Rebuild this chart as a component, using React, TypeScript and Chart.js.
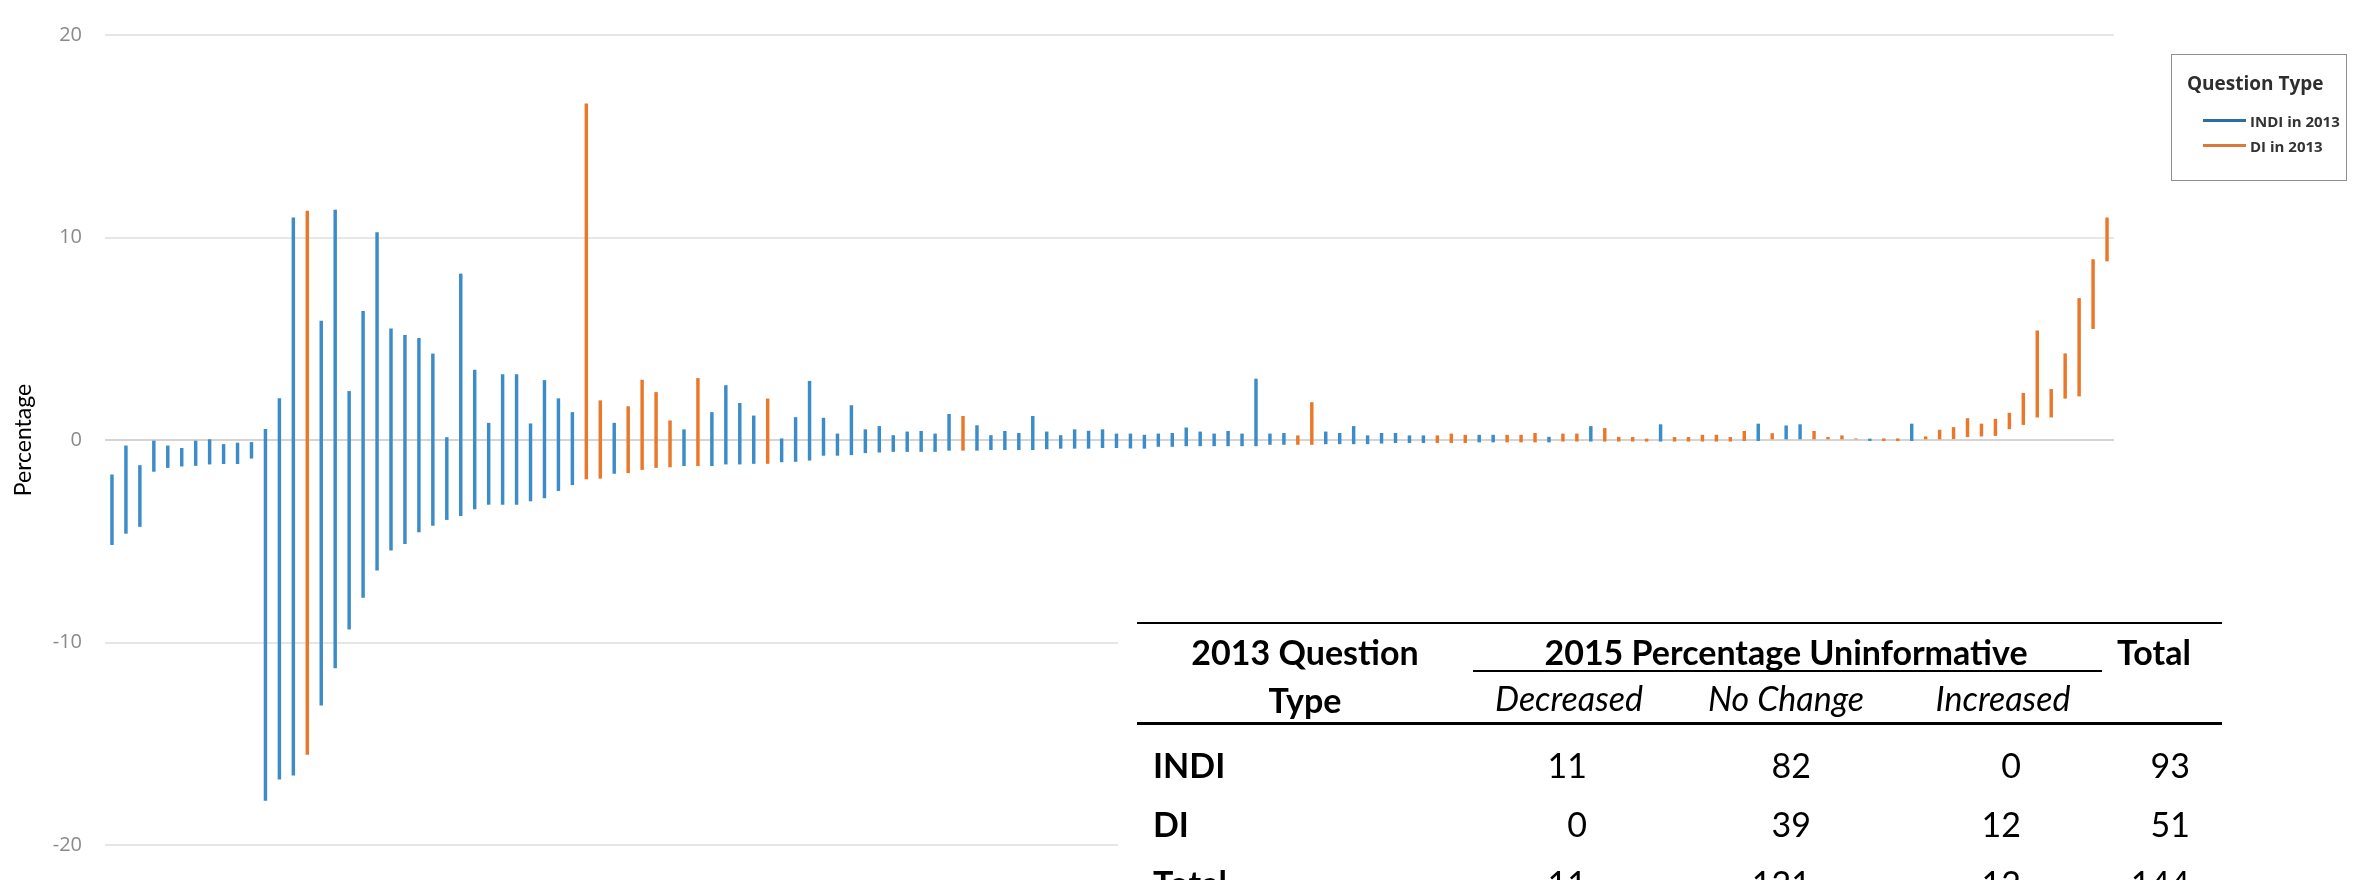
import React, { useEffect, useRef } from "react";
import { Chart, registerables } from "chart.js";

Chart.register(...registerables);

// ---- Data ----
// Question type in 2013 for each of the 144 questions, in plotted order (I = INDI, D = DI)
const questionTypes =
  "IIIIIIIIIIIIIIDIIIIIIIIIIIIIIIIIIIDDIDDDDIDIIIIDIIIIIIIIIIIIIDIIIIIIIIIIIIIIIIIIIIIIIDDIIIIIIIIDDDIIDDDIDDIDDDDIDDDDDDIDIIDDDDIDDIDDDDDDDDDDDDDD".split("");

// Lower end of each bar (percentage)
const lows = [
  -5.17, -4.61, -4.27, -1.55, -1.36, -1.29, -1.26, -1.19, -1.17, -1.17, -0.9, -17.8,
  -16.75, -16.55, -15.53, -13.1, -11.26, -9.34, -7.77, -6.43, -5.44, -5.12, -4.54, -4.22,
  -3.93, -3.74, -3.4, -3.18, -3.18, -3.18, -3.01, -2.86, -2.5, -2.21, -1.92, -1.89,
  -1.65, -1.62, -1.46, -1.36, -1.33, -1.27, -1.27, -1.27, -1.19, -1.19, -1.16, -1.16,
  -1.08, -1.06, -1.0, -0.76, -0.76, -0.73, -0.63, -0.6, -0.57, -0.57, -0.57, -0.57,
  -0.51, -0.51, -0.51, -0.48, -0.48, -0.48, -0.48, -0.44, -0.41, -0.41, -0.41, -0.38,
  -0.38, -0.4, -0.41, -0.32, -0.32, -0.29, -0.29, -0.29, -0.29, -0.29, -0.29, -0.22,
  -0.22, -0.22, -0.22, -0.19, -0.19, -0.19, -0.19, -0.16, -0.13, -0.13, -0.13, -0.13,
  -0.13, -0.13, -0.1, -0.1, -0.1, -0.1, -0.1, -0.1, -0.06, -0.06, -0.06, -0.06,
  -0.06, -0.06, -0.06, -0.06, -0.06, -0.06, -0.06, -0.06, -0.06, -0.03, -0.03, 0,
  0, 0, 0, 0, 0, 0, -0.03, -0.03, -0.03, -0.03, 0, 0,
  0.06, 0.16, 0.19, 0.22, 0.55, 0.76, 1.13, 1.13, 2.06, 2.17, 5.5, 8.84,
];

// Upper end of each bar (percentage)
const highs = [
  -1.72, -0.29, -1.26, 0.0, -0.29, -0.41, -0.05, 0.02, -0.22, -0.15, -0.12, 0.53,
  2.04, 10.97, 11.31, 5.87, 11.36, 2.4, 6.36, 10.24, 5.49, 5.17, 5.02, 4.25,
  0.12, 8.2, 3.45, 0.83, 3.23, 3.23, 0.8, 2.94, 2.04, 1.36, 16.6, 1.94,
  0.83, 1.65, 2.96, 2.35, 0.95, 0.51, 3.04, 1.36, 2.69, 1.81, 1.19, 2.03,
  0.06, 1.11, 2.9, 1.08, 0.3, 1.7, 0.51, 0.67, 0.22, 0.4, 0.43, 0.3,
  1.27, 1.17, 0.71, 0.22, 0.43, 0.33, 1.17, 0.4, 0.22, 0.51, 0.44, 0.51,
  0.3, 0.3, 0.24, 0.3, 0.33, 0.6, 0.4, 0.3, 0.43, 0.3, 3.01, 0.3,
  0.33, 0.21, 1.85, 0.4, 0.33, 0.67, 0.21, 0.33, 0.33, 0.21, 0.21, 0.21,
  0.3, 0.24, 0.24, 0.24, 0.24, 0.24, 0.33, 0.14, 0.3, 0.3, 0.67, 0.57,
  0.14, 0.13, 0.05, 0.76, 0.13, 0.13, 0.24, 0.24, 0.13, 0.43, 0.79, 0.32,
  0.7, 0.76, 0.43, 0.13, 0.21, 0.06, 0.05, 0.06, 0.06, 0.79, 0.16, 0.49,
  0.62, 1.06, 0.79, 1.03, 1.33, 2.31, 5.39, 2.5, 4.26, 6.99, 8.91, 10.97,
];

const questionLabels = questionTypes.map((_, i) => `Q${i + 1}`);

const yTicks = [-20, -10, 0, 10, 20];

// Summary table
const tableRowLabels = ["INDI", "DI", "Total"];
const decreasedCounts = [11, 0, 11];
const noChangeCounts = [82, 39, 121];
const increasedCounts = [0, 12, 12];
const totalCounts = [93, 51, 144];

const seriesNames = ["INDI in 2013", "DI in 2013"];

const BLUE = "#3b8cc8";
const ORANGE = "#ea782a";
const LEGEND_BLUE = "#2a6f9f";
const LEGEND_ORANGE = "#d9793a";

const TABLE_FONT = "Lato, 'Open Sans', sans-serif";

function Txt(props: {
  text: string | number;
  x: number;
  cy: number;
  align: "left" | "center" | "right";
  size: number;
  weight?: string | number;
  italic?: boolean;
  color?: string;
  family?: string;
}) {
  const w = 600;
  const lh = Math.round(props.size * 1.2);
  let left = props.x;
  if (props.align === "center") left = props.x - w / 2;
  if (props.align === "right") left = props.x - w;
  return (
    <div
      style={{
        position: "absolute",
        left,
        top: props.cy - lh / 2,
        width: w,
        height: lh,
        lineHeight: lh + "px",
        fontSize: props.size,
        fontFamily: props.family || TABLE_FONT,
        fontWeight: props.weight as any,
        fontStyle: props.italic ? "italic" : "normal",
        color: props.color || "#000",
        textAlign: props.align,
        whiteSpace: "nowrap",
      }}
    >
      {props.text}
    </div>
  );
}

function Rule(props: { x1: number; x2: number; y: number; h: number }) {
  return (
    <div
      style={{
        position: "absolute",
        left: props.x1,
        top: props.y,
        width: props.x2 - props.x1,
        height: props.h,
        background: "#000",
      }}
    />
  );
}

export default function App() {
  const ref = useRef<HTMLCanvasElement>(null);

  useEffect(() => {
    document.body.style.margin = "0";
    document.body.style.overflow = "hidden";
    const indiData = questionTypes.map((t, i) => (t === "I" ? [lows[i], highs[i]] : null));
    const diData = questionTypes.map((t, i) => (t === "D" ? [lows[i], highs[i]] : null));
    const chart = new Chart(ref.current as HTMLCanvasElement, {
      type: "bar",
      data: {
        labels: questionLabels,
        datasets: [
          {
            label: seriesNames[0],
            data: indiData as any,
            backgroundColor: BLUE,
            barThickness: 2.8,
            grouped: false,
            borderWidth: 0,
          } as any,
          {
            label: seriesNames[1],
            data: diData as any,
            backgroundColor: ORANGE,
            barThickness: 2.8,
            grouped: false,
            borderWidth: 0,
          } as any,
        ],
      },
      options: {
        responsive: false,
        animation: false,
        devicePixelRatio: 1,
        layout: { padding: { top: 22.5, bottom: 16, left: 0, right: 242 } },
        plugins: { legend: { display: false }, tooltip: { enabled: false } },
        scales: {
          x: { display: false, offset: true },
          y: {
            min: yTicks[0],
            max: yTicks[yTicks.length - 1],
            afterBuildTicks: (scale: any) => {
              scale.ticks = yTicks.map((v) => ({ value: v }));
            },
            ticks: {
              padding: 23,
              color: "#8a8a8a",
              font: { family: "'Open Sans'", size: 20 },
            },
            grid: {
              drawTicks: false,
              lineWidth: 2,
              color: (ctx: any) => (ctx.tick && ctx.tick.value === 0 ? "#d4d4d4" : "#e6e6e6"),
            },
            border: { display: false },
            title: {
              display: true,
              text: "Percentage",
              color: "#000",
              font: { family: "Lato", size: 23 },
              padding: { top: 10, bottom: 0 },
            },
            afterFit: (scale: any) => {
              scale.width = 105;
            },
          } as any,
        },
      },
    });
    return () => chart.destroy();
  }, []);

  return (
    <div
      style={{
        position: "fixed",
        left: 0,
        top: 0,
        width: 2356,
        height: 880,
        overflow: "hidden",
        background: "#fff",
      }}
    >
      <canvas ref={ref} width={2356} height={880} style={{ width: 2356, height: 880, display: "block" }} />

      {/* Legend */}
      <div
        style={{
          position: "absolute",
          left: 2171,
          top: 54,
          width: 174,
          height: 125,
          border: "1px solid #8f8f8f",
          background: "#fff",
        }}
      />
      <Txt text="Question Type" x={2187} cy={83} align="left" size={19} weight="bold" color="#2e2e2e" family="'Open Sans', sans-serif" />
      <div style={{ position: "absolute", left: 2203, top: 119, width: 43, height: 3, background: LEGEND_BLUE }} />
      <div style={{ position: "absolute", left: 2203, top: 144, width: 43, height: 3, background: LEGEND_ORANGE }} />
      <Txt text={seriesNames[0]} x={2250} cy={121} align="left" size={15} weight="bold" color="#333" family="'Open Sans', sans-serif" />
      <Txt text={seriesNames[1]} x={2250} cy={146} align="left" size={15} weight="bold" color="#333" family="'Open Sans', sans-serif" />

      {/* Summary table */}
      <div style={{ position: "absolute", left: 1118, top: 600, width: 1180, height: 280, background: "#fff" }} />
      <Rule x1={1137} x2={2222} y={622} h={2} />
      <Rule x1={1473} x2={2102} y={670} h={2} />
      <Rule x1={1137} x2={2222} y={722} h={3} />

      <Txt text="2013 Question" x={1305} cy={651} align="center" size={34} weight="bold" />
      <Txt text="Type" x={1305} cy={699} align="center" size={34} weight="bold" />
      <Txt text="2015 Percentage Uninformative" x={1786} cy={651} align="center" size={34} weight="bold" />
      <Txt text="Total" x={2154} cy={651} align="center" size={34} weight="bold" />
      <Txt text="Decreased" x={1569} cy={697} align="center" size={34} italic />
      <Txt text="No Change" x={1786} cy={697} align="center" size={34} italic />
      <Txt text="Increased" x={2003} cy={697} align="center" size={34} italic />

      {tableRowLabels.map((lab, i) => {
        const cy = 764 + i * 59;
        return (
          <React.Fragment key={lab}>
            <Txt text={lab} x={1153} cy={cy} align="left" size={34} weight="bold" />
            <Txt text={decreasedCounts[i]} x={1587} cy={cy} align="right" size={34} />
            <Txt text={noChangeCounts[i]} x={1811} cy={cy} align="right" size={34} />
            <Txt text={increasedCounts[i]} x={2021} cy={cy} align="right" size={34} />
            <Txt text={totalCounts[i]} x={2190} cy={cy} align="right" size={34} />
          </React.Fragment>
        );
      })}
    </div>
  );
}
